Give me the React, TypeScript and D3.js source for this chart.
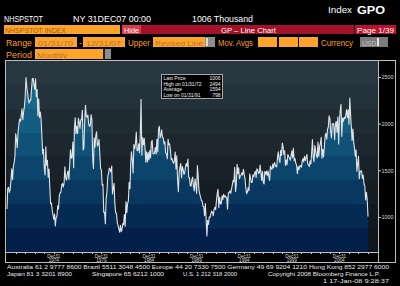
import React from "react";
import * as d3 from "d3";

const START_YEAR = 1970;
const starts1970s = [
  1085, 1305, 1319, 1264, 1290, 1385, 1517, 1399, 1534, 1580, 1647, 1893,
  1828, 1741, 1910, 1986, 2049, 2026, 2083, 2158, 2041, 2128, 2182, 2295,
  2494, 2390, 2334, 2249, 2221, 2254, 2252, 2382, 2481, 2485, 2421, 2366,
  2481, 2289, 2365, 2084, 2266, 2067, 2123, 2051, 1874, 1677, 1724, 1526,
  1451, 1752, 1555, 1607, 1426, 1513, 1316, 1142, 1150, 1070, 1026, 975,
  1032, 904, 993, 1005, 1121, 1087, 1226, 1260, 1264, 1344, 1360, 1321,
  1367, 1538, 1421, 1395, 1459, 1495, 1401, 1550, 1720, 1629, 1641, 1804,
  1527, 1943, 2063, 1892, 1971, 1893, 2058, 2020, 1949, 2042, 2042, 2142,
  1718, 1738, 2032, 2197, 2075, 2070, 2092, 1996, 1970, 1981, 2094, 2044,
  1630, 1520, 1847, 1748, 1876, 1913, 1760, 1778, 1832, 1681, 1524, 1498,
];
const starts1980s = [
  1341, 1350, 1047, 1051, 927, 1196, 1269, 1436, 1471, 1523, 1510, 1482,
  1547, 1246, 1306, 1360, 1140, 1045, 1041, 940, 911, 873, 837, 910,
  843, 866, 931, 917, 1025, 902, 1166, 1046, 1144, 1173, 1372, 1303,
  1586, 1699, 1606, 1472, 1776, 1733, 1785, 1910, 1710, 1715, 1785, 1688,
  1897, 2260, 1663, 1851, 1774, 1843, 1732, 1586, 1698, 1590, 1689, 1612,
  1711, 1632, 1800, 1821, 1680, 1676, 1684, 1743, 1676, 1834, 1698, 1942,
  1972, 1848, 1876, 1933, 1854, 1847, 1782, 1807, 1687, 1681, 1623, 1833,
  1774, 1784, 1726, 1614, 1628, 1594, 1575, 1605, 1695, 1515, 1656, 1400,
  1271, 1473, 1532, 1573, 1421, 1541, 1509, 1455, 1474, 1542, 1574, 1542,
  1621, 1425, 1422, 1339, 1331, 1397, 1427, 1332, 1279, 1410, 1351, 1251,
];
const starts1990s = [
  1551, 1437, 1289, 1248, 1212, 1177, 1171, 1115, 1110, 1014, 1145, 969,
  798, 965, 921, 1001, 996, 1036, 1063, 1049, 1015, 1079, 1103, 1079,
  1176, 1250, 1297, 1099, 1214, 1145, 1139, 1226, 1186, 1244, 1214, 1227,
  1210, 1210, 1083, 1258, 1260, 1280, 1254, 1300, 1343, 1392, 1376, 1533,
  1272, 1337, 1564, 1465, 1526, 1409, 1439, 1450, 1474, 1450, 1511, 1455,
  1407, 1316, 1249, 1267, 1314, 1281, 1461, 1416, 1369, 1369, 1452, 1431,
  1467, 1491, 1424, 1516, 1504, 1467, 1472, 1557, 1475, 1392, 1489, 1370,
  1355, 1486, 1457, 1492, 1442, 1494, 1437, 1390, 1546, 1520, 1510, 1566,
  1525, 1584, 1567, 1540, 1536, 1641, 1698, 1614, 1582, 1715, 1660, 1792,
  1748, 1670, 1710, 1553, 1611, 1559, 1669, 1648, 1635, 1608, 1648, 1708,
];
const starts2000s = [
  1636, 1737, 1604, 1626, 1575, 1559, 1463, 1541, 1507, 1549, 1551, 1532,
  1600, 1625, 1590, 1649, 1605, 1636, 1670, 1567, 1562, 1540, 1602, 1568,
  1698, 1829, 1642, 1592, 1764, 1717, 1655, 1633, 1804, 1648, 1753, 1788,
  1853, 1629, 1726, 1643, 1751, 1867, 1897, 1833, 1939, 1967, 2083, 2057,
  1911, 1846, 1998, 2003, 1981, 1828, 2002, 2024, 1905, 2072, 1782, 2042,
  2144, 2207, 1864, 2061, 2025, 2068, 2054, 2095, 2151, 2065, 2147, 1994,
  2273, 2119, 1969, 1821, 1942, 1802, 1737, 1650, 1720, 1491, 1570, 1649,
  1409, 1480, 1495, 1490, 1415, 1448, 1354, 1330, 1183, 1264, 1187, 1006,
];
const yTicks = [1000, 1500, 2000, 2500];
const xLabelYears = [1974, 1979, 1984, 1989, 1994, 1999, 2004];
const legendRows = [
  ["Last Price", "1006"],
  ["High on 01/31/72", "2494"],
  ["Average", "1594"],
  ["Low on 01/31/91", "798"],
];

const allStarts = [...starts1970s, ...starts1980s, ...starts1990s, ...starts2000s];
const data = allStarts.map((v, i) => ({
  date: new Date(START_YEAR + Math.floor(i / 12), (i % 12) + 1, 0),
  v,
}));

const bgBands = ["#27363f", "#23313a", "#1f2c34", "#1c272e", "#192229", "#161e24", "#131a1f", "#10151a"];
const fillBands = ["#1b7394", "#17698b", "#135d81", "#105177", "#0c456c", "#083860", "#052b54", "#022049"];

function bandStops(colors: string[]) {
  const out: JSX.Element[] = [];
  const n = colors.length;
  colors.forEach((c, i) => {
    out.push(<stop key={i + "a"} offset={`${(i / n) * 100}%`} stopColor={c} />);
    out.push(<stop key={i + "b"} offset={`${((i + 1) / n) * 100}%`} stopColor={c} />);
  });
  return out;
}

export default function App() {
  const W = 400, H = 286;
  const pL = 6, pR = 378, pT = 61, pB = 252;
  const x = d3.scaleTime().domain([new Date(1970, 0, 31), new Date(2007, 11, 31)]).range([7, 368]);
  const y = d3.scaleLinear().domain([625, 2671]).range([pB, pT]);
  const area = d3.area<{ date: Date; v: number }>().x((d) => x(d.date)).y0(pB).y1((d) => y(d.v));
  const line = d3.line<{ date: Date; v: number }>().x((d) => x(d.date)).y((d) => y(d.v));
  const yearTicks = d3.range(1970, 2008).map((yr) => new Date(yr, 11, 31));

  const hf = "'Liberation Sans', Arial, sans-serif";
  const orange = "#ff9d1e";
  const boxFill = "#ffa42a";
  const boxText = "#b8722a";

  const label = (t: string, xx: number, yy: number, len: number, fill: string, size = 8.5, extra: any = {}) => (
    <text x={xx} y={yy} fontSize={size} fill={fill} fontFamily={hf} textLength={len} lengthAdjust="spacingAndGlyphs" {...extra}>
      {t}
    </text>
  );

  return (
    <svg width={W} height={H} style={{ position: "absolute", left: 0, top: 0, background: "#000" }}>
      <defs>
        <linearGradient id="bg" x1="0" y1={pT} x2="0" y2={pB} gradientUnits="userSpaceOnUse">
          {bandStops(bgBands)}
        </linearGradient>
        <linearGradient id="fill" x1="0" y1={pT} x2="0" y2={pB} gradientUnits="userSpaceOnUse">
          {bandStops(fillBands)}
        </linearGradient>
        <clipPath id="plotClip">
          <rect x={pL} y={pT} width={pR - pL} height={pB - pT} />
        </clipPath>
      </defs>
      <rect x={0} y={0} width={W} height={H} fill="#000" />

      {/* Header row 1 */}
      {label("NHSPSTOT", 4, 22, 39, "#fff", 9)}
      {label("NY 31DEC07 00:00", 73, 22, 78, "#fff", 9)}
      {label("1006 Thousand", 192, 22, 61, "#fff", 9)}
      {label("Index", 328, 13, 24, "#fff", 9)}
      {label("GPO", 357, 14, 28, "#fff", 11, { fontWeight: "bold" })}

      {/* Row 2 */}
      <rect x={4} y={25} width={116} height={9} fill={boxFill} />
      {label("NHSPSTOT INDEX", 5, 32.5, 61, "#9a5c14", 8)}
      <rect x={122} y={25} width={19} height={9} fill="#d83a4a" />
      {label("Hide", 124, 32.5, 15, "#fff", 8)}
      <rect x={141} y={25} width={213} height={9} fill="#a4122a" />
      {label("GP – Line Chart", 221, 32.5, 55, "#fff", 8)}
      <rect x={355} y={25} width={41} height={9} fill="#b8142e" />
      {label("Page 1/39", 357, 32.5, 37, "#fff", 8)}

      {/* Row 3 */}
      {label("Range", 6, 45.5, 26, orange, 8.5)}
      <rect x={35} y={37} width={42} height={10} fill={boxFill} />
      {label("01/31/70", 38, 45.5, 35, boxText, 8)}
      {label("-", 79, 45.5, 3, orange, 8.5)}
      <rect x={83} y={37} width={42} height={10} fill={boxFill} />
      {label("12/31/07", 86, 45.5, 35, boxText, 8)}
      {label("Upper", 128, 45.5, 22, orange, 8.5)}
      <rect x={153} y={37} width={52} height={10} fill={boxFill} />
      <rect x={205} y={37} width={10} height={10} fill="#8c8c8c" />
      <rect x={206} y={38} width={2} height={8} fill="#dcdcdc" />
      {label("Revised Line", 155, 45.5, 48, boxText, 8)}
      {label("Mov. Avgs", 218, 45.5, 35, orange, 8.5)}
      <rect x={258} y={37} width={19} height={10} fill={boxFill} />
      <rect x={279} y={37} width={19} height={10} fill={boxFill} />
      <rect x={299} y={37} width={19} height={10} fill={boxFill} />
      {label("Currency", 321, 45.5, 32, orange, 8.5)}
      <rect x={360} y={37} width={28} height={10} fill="#7c7c7c" />
      <rect x={377} y={38} width={2} height={8} fill="#e0e0e0" />
      {label("USD", 362, 45.5, 14, "#c4c4c4", 8)}

      {/* Row 4 */}
      {label("Period", 6, 57.5, 26, orange, 8.5)}
      <rect x={35} y={49} width={68} height={10} fill={boxFill} />
      <rect x={103} y={49} width={2} height={10} fill="#222" />
      <rect x={105} y={49} width={6} height={10} fill="#8c8c8c" />
      {label("Monthly", 37, 57.5, 30, boxText, 8)}

      {/* Plot */}
      <rect x={pL} y={pT} width={pR - pL} height={pB - pT} fill="url(#bg)" />
      <g clipPath="url(#plotClip)">
        <path d={area(data) || ""} fill="url(#fill)" />
        <path d={line(data) || ""} fill="none" stroke="#dfe3e6" strokeWidth={1.1} strokeLinejoin="round" />
      </g>

      {/* Frame */}
      <rect x={5.5} y={60.5} width={390} height={202} fill="none" stroke="#bdbdbd" strokeWidth={1} />
      <line x1={378.5} y1={60.5} x2={378.5} y2={262.5} stroke="#bdbdbd" />
      <line x1={5.5} y1={252.5} x2={378.5} y2={252.5} stroke="#bdbdbd" />

      {/* Right axis */}
      {yTicks.map((t) => (
        <g key={t}>
          <line x1={378} x2={381} y1={y(t) + 0.5} y2={y(t) + 0.5} stroke="#d0d0d0" />
          <text x={381.5} y={y(t) + 2.3} fontSize={6} fill="#dadada" fontFamily={hf} textLength={12} lengthAdjust="spacingAndGlyphs">
            {t}
          </text>
        </g>
      ))}

      {/* Bottom axis */}
      {yearTicks.map((d, i) => (
        <line key={i} x1={Math.round(x(d)) + 0.5} x2={Math.round(x(d)) + 0.5} y1={252.5} y2={254} stroke="#d0d0d0" />
      ))}
      {xLabelYears.map((yr) => {
        const cx = x(new Date(yr, 11, 31));
        return (
          <g key={yr}>
            <text x={cx} y={257.5} fontSize={4.6} fill="#dadada" fontFamily={hf} textAnchor="middle">
              Dec31
            </text>
            <text x={cx} y={262} fontSize={4.6} fill="#dadada" fontFamily={hf} textAnchor="middle">
              {yr}
            </text>
          </g>
        );
      })}

      {/* Legend */}
      <rect x={161.5} y={74.5} width={61} height={24} fill="#000" stroke="#a8a8a8" />
      {legendRows.map((r, i) => (
        <g key={i}>
          <text x={163.5} y={80 + i * 5.5} fontSize={5} fill="#f0f0f0" fontFamily={hf}>
            {r[0]}
          </text>
          <text x={220.5} y={80 + i * 5.5} fontSize={5} fill="#f0f0f0" fontFamily={hf} textAnchor="end">
            {r[1]}
          </text>
        </g>
      ))}

      {/* Footer */}
      {label("Australia 61 2 9777 8600 Brazil 5511 3048 4500 Europe 44 20 7330 7500 Germany 49 69 9204 1210 Hong Kong 852 2977 6000", 7, 268.5, 382, "#e8e8e8", 6.2)}
      {label("Japan 81 3 3201 8900", 7, 275.5, 65, "#e8e8e8", 6.2)}
      {label("Singapore 65 6212 1000", 92, 275.5, 72, "#e8e8e8", 6.2)}
      {label("U.S. 1 212 318 2000", 183, 275.5, 54, "#e8e8e8", 6.2)}
      {label("Copyright 2008 Bloomberg Finance L.P.", 268, 275.5, 112, "#e8e8e8", 6.2)}
      {label("1 17-Jan-08  9:28:37", 323, 282.5, 66, "#e8e8e8", 6.2)}
    </svg>
  );
}
